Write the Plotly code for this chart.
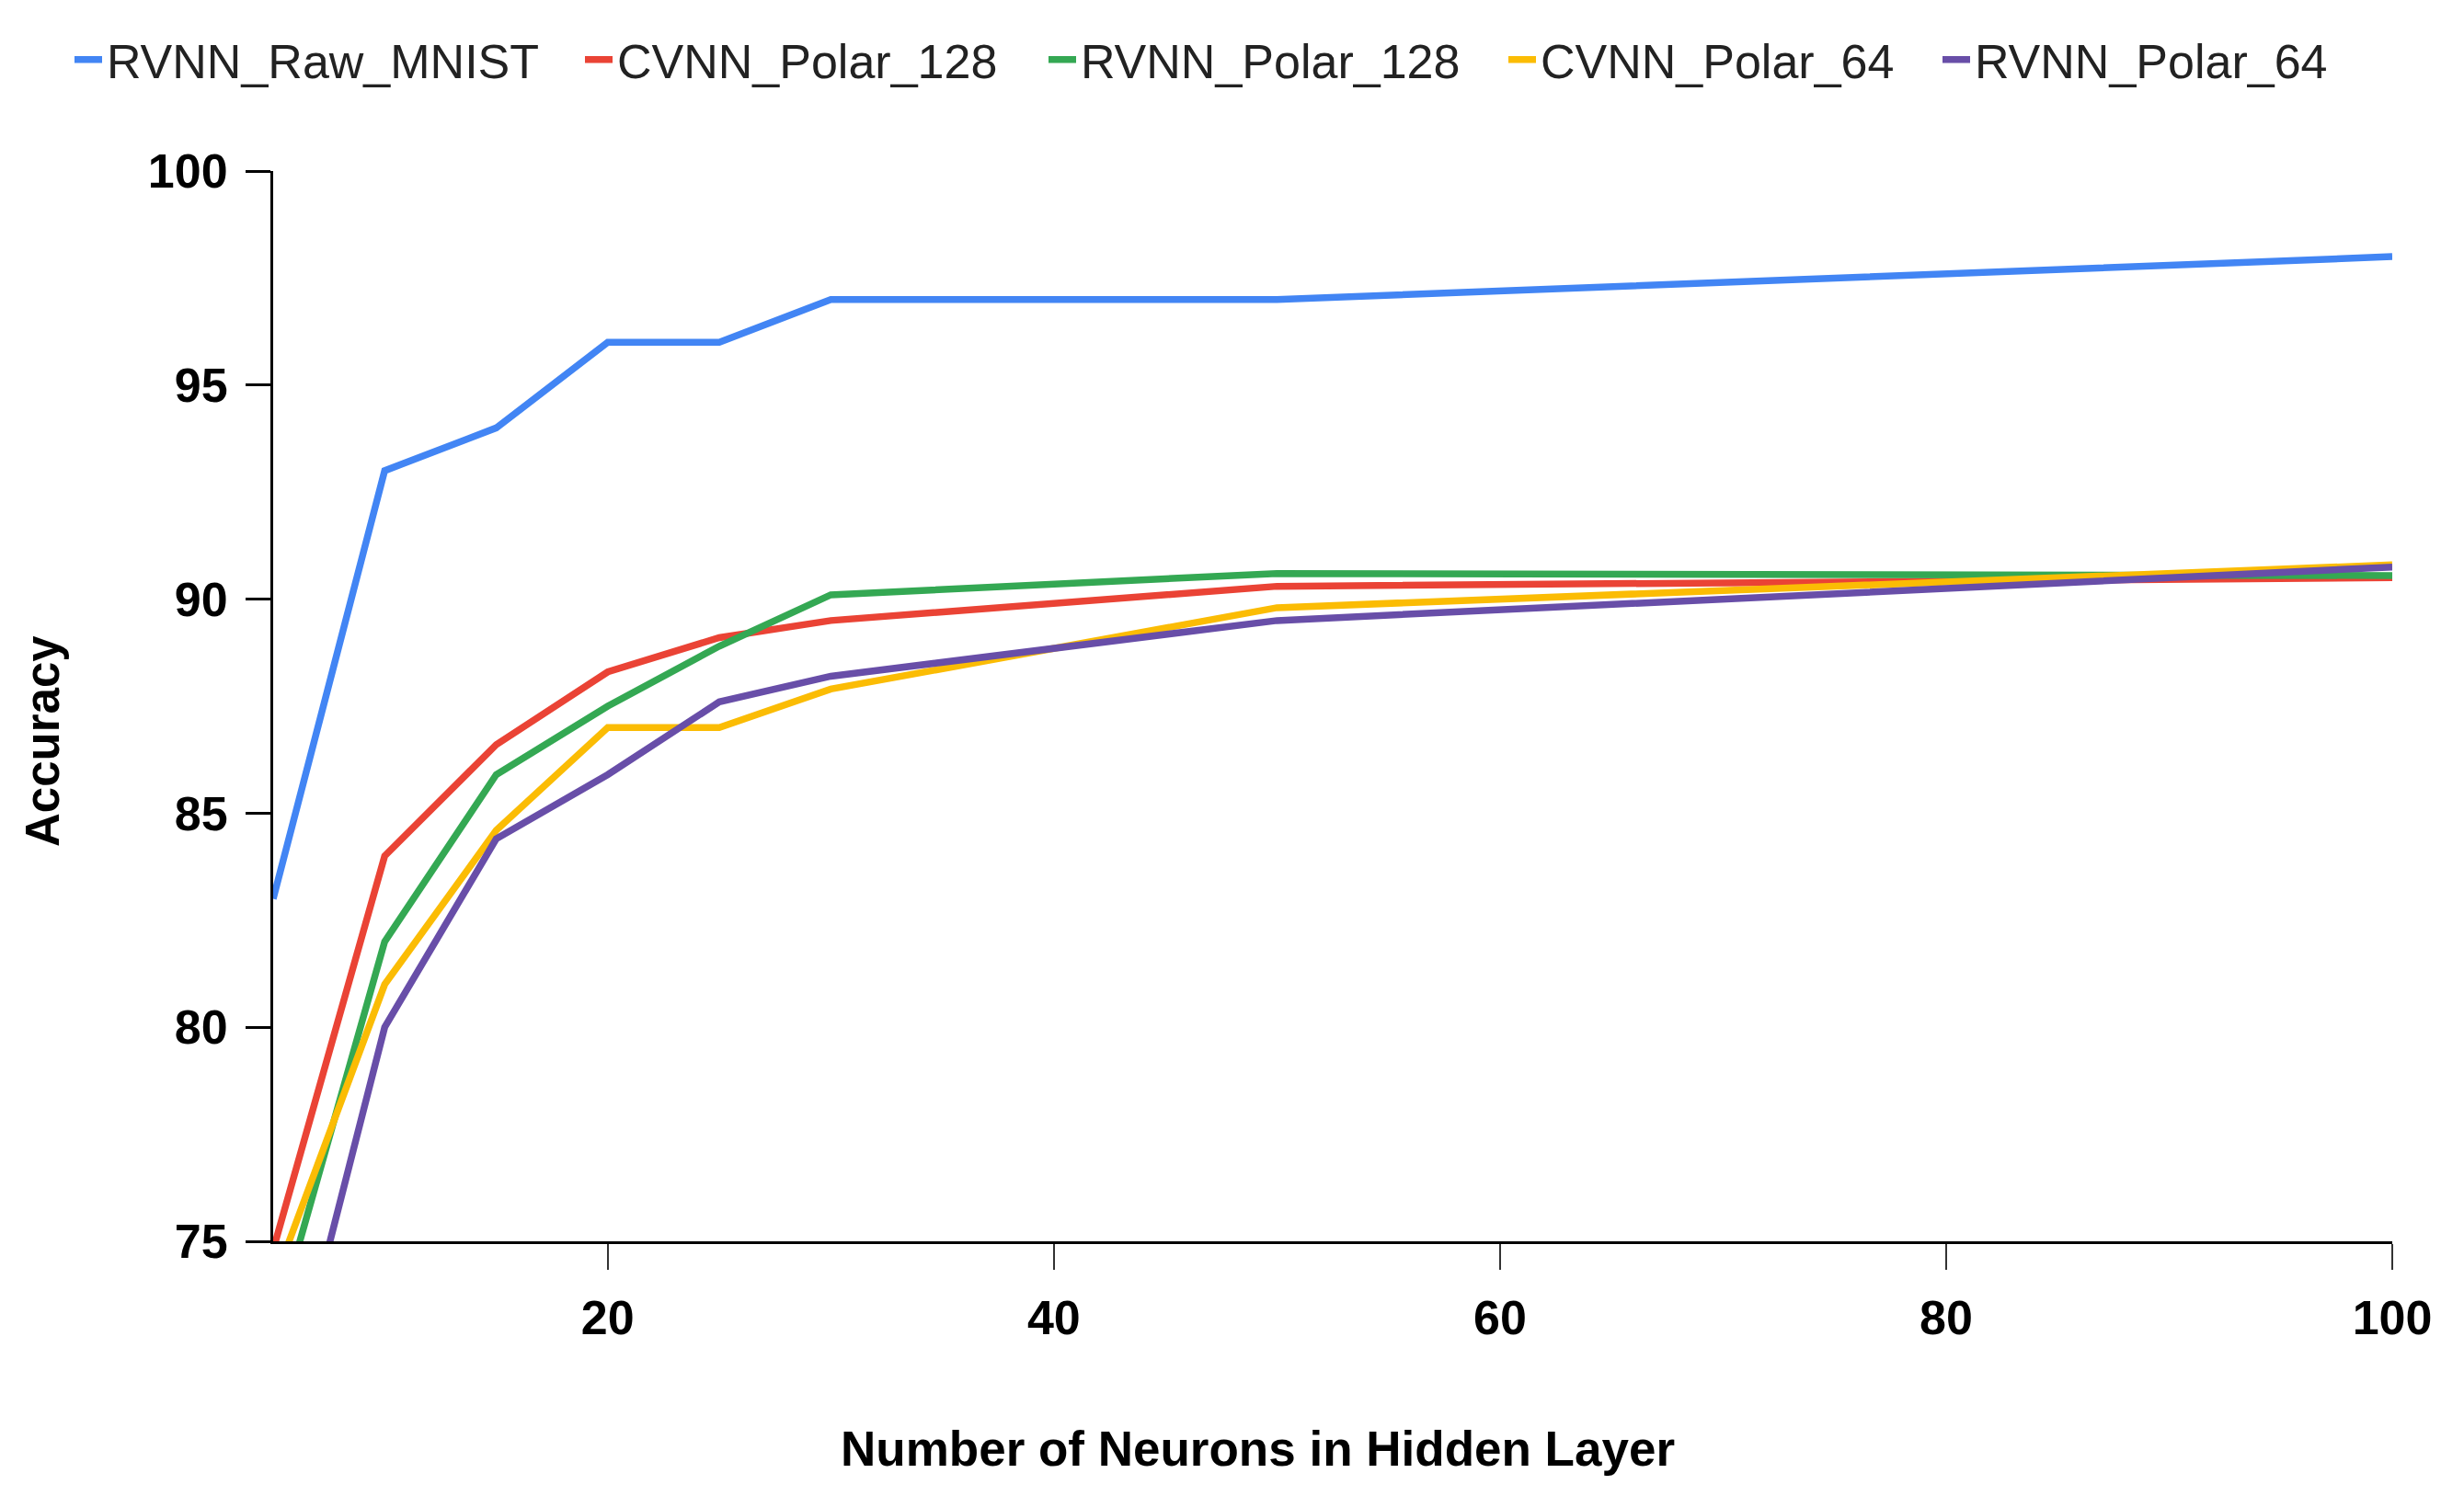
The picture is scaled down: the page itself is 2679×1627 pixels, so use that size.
import plotly.graph_objects as go

neurons = [5, 10, 15, 20, 25, 30, 50, 100]
rvnn_raw_mnist = [83, 93, 94, 96, 96, 97, 97, 98]
cvnn_polar_128 = [74.8, 84, 86.6, 88.3, 89.1, 89.5, 90.3, 90.5]
rvnn_polar_128 = [72.8, 82, 85.9, 87.5, 88.9, 90.1, 90.6, 90.55]
cvnn_polar_64 = [74, 81, 84.6, 87, 87, 87.9, 89.8, 90.8]
rvnn_polar_64 = [69.8, 80, 84.4, 85.9, 87.6, 88.2, 89.5, 90.75]

series_names = ["RVNN_Raw_MNIST", "CVNN_Polar_128", "RVNN_Polar_128", "CVNN_Polar_64", "RVNN_Polar_64"]
series_values = [rvnn_raw_mnist, cvnn_polar_128, rvnn_polar_128, cvnn_polar_64, rvnn_polar_64]
series_colors = ["#4285F4", "#EA4335", "#34A853", "#FBBC04", "#684EA8"]

x_tickvals = [20, 40, 60, 80, 100]
y_tickvals = [75, 80, 85, 90, 95, 100]

# legend entry text start (px, in the 2679-wide page)
legend_text_x = [120, 675, 1179, 1679, 2151]

FONT = "Liberation Sans, Arial, sans-serif"

W, H = 2679, 1627
L, R, T, B = 297, 78, 186, 277

fig = go.Figure()
legend_layouts = {}
for i, (name, vals, col, tx) in enumerate(zip(series_names, series_values, series_colors, legend_text_x)):
    key = "legend" if i == 0 else f"legend{i + 1}"
    fig.add_trace(go.Scatter(x=neurons, y=vals, mode="lines", name=name,
                             legend=key, line=dict(color=col, width=7.5)))
    legend_layouts[key] = dict(
        orientation="h", xref="container", yref="container",
        x=(tx - 44) / W, xanchor="left", y=1 - 65 / H, yanchor="middle",
        font=dict(family=FONT, size=52, color="#222222"),
        itemwidth=30, bgcolor="rgba(0,0,0,0)", borderwidth=0)

fig.update_layout(
    width=W, height=H,
    margin=dict(l=L, r=R, t=T, b=B, pad=0),
    paper_bgcolor="white", plot_bgcolor="white",
    font=dict(family=FONT, color="#000000"),
    showlegend=True,
    xaxis=dict(range=[5, 100], tickmode="array", tickvals=x_tickvals,
               ticktext=[str(v) for v in x_tickvals],
               showgrid=False, zeroline=False,
               showline=True, linecolor="#000000", linewidth=3,
               ticks="outside", ticklen=28, tickwidth=2, tickcolor="#333333",
               tickfont=dict(family=FONT, size=52, weight="bold", color="#000000"),
               ticklabelstandoff=8),
    yaxis=dict(range=[75, 100], tickmode="array", tickvals=y_tickvals,
               ticktext=[str(v) for v in y_tickvals],
               showgrid=False, zeroline=False,
               showline=True, linecolor="#000000", linewidth=3,
               ticks="outside", ticklen=27, tickwidth=3, tickcolor="#000000",
               tickfont=dict(family=FONT, size=52, weight="bold", color="#000000"),
               ticklabelstandoff=9),
    annotations=[
        dict(text="Accuracy", xref="paper", yref="paper",
             x=(46 - L) / (W - L - R), y=1 - (806 - T) / (H - T - B),
             xanchor="center", yanchor="middle", textangle=-90, showarrow=False,
             font=dict(family=FONT, size=51, weight="bold", color="#000000")),
        dict(text="Number of Neurons in Hidden Layer", xref="paper", yref="paper",
             x=(1367 - L) / (W - L - R), y=-(1575 - (H - B)) / (H - T - B),
             xanchor="center", yanchor="middle", showarrow=False,
             font=dict(family=FONT, size=53, weight="bold", color="#000000")),
    ],
    **legend_layouts,
)

fig.write_html("out.html", config={"displayModeBar": False},
               post_script="document.body.style.margin='0';document.body.style.overflow='hidden';")
